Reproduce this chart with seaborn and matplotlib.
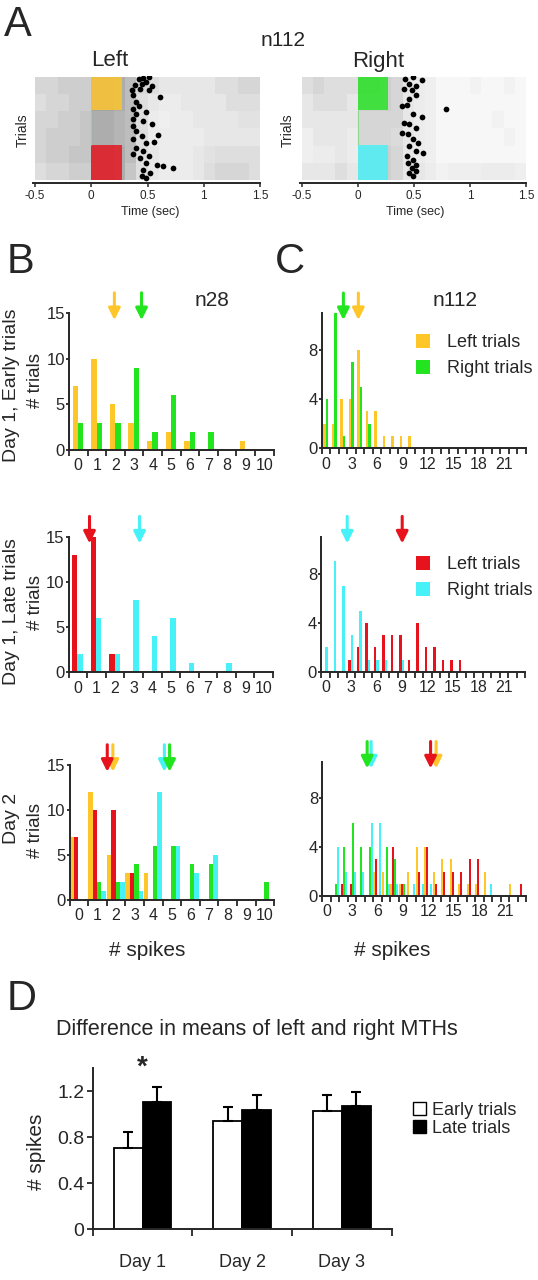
import numpy as np
import pandas as pd
import matplotlib
matplotlib.use("Agg")
import matplotlib.pyplot as plt
import seaborn as sns
from matplotlib.patches import Patch, Rectangle
from matplotlib.colors import LinearSegmentedColormap

# ---------------- colours ----------------
YELLOW = "#FFC62A"
GREEN = "#22E41F"
RED = "#E6121C"
CYAN = "#46F1F7"

# ---------------- Panel A : raster (n112) ----------------
raster_time_edges = [-0.5, -0.4, -0.3, -0.2, -0.1, 0.0, 0.1, 0.2, 0.3, 0.4, 0.5,
                     0.6, 0.7, 0.8, 0.9, 1.0, 1.1, 1.2, 1.3, 1.4, 1.5]
raster_trial_edges = [0, 10, 20, 30, 40, 50, 60]
# spike density (0 = empty, 1 = solid) per block of trials (rows) and time bin (cols)
left_density = [
    [.25, .25, .30, .30, .30, .55, .55, .50, .40, .25, .20, .15, .15, .15, .15, .15, .20, .20, .25, .25],
    [.20, .25, .25, .30, .30, .55, .55, .50, .40, .20, .15, .12, .12, .15, .15, .15, .15, .20, .20, .20],
    [.25, .25, .30, .30, .35, .50, .50, .45, .40, .20, .12, .10, .12, .12, .15, .15, .15, .15, .18, .18],
    [.25, .30, .30, .30, .35, .50, .50, .45, .40, .20, .12, .12, .12, .12, .12, .15, .15, .15, .15, .15],
    [.25, .30, .30, .35, .35, .55, .55, .50, .40, .20, .15, .12, .12, .12, .15, .18, .20, .20, .20, .20],
    [.20, .25, .25, .30, .30, .55, .55, .50, .35, .20, .15, .12, .12, .12, .15, .20, .25, .25, .25, .20],
]
right_density = [
    [.20, .25, .20, .20, .20, .35, .35, .30, .25, .15, .12, .10, .05, .05, .05, .08, .05, .05, .08, .05],
    [.15, .20, .20, .20, .15, .30, .30, .30, .25, .15, .12, .10, .05, .05, .05, .05, .05, .05, .05, .05],
    [.15, .15, .15, .15, .15, .25, .25, .25, .25, .15, .12, .10, .05, .05, .05, .05, .05, .08, .05, .05],
    [.10, .15, .15, .15, .12, .25, .25, .25, .22, .15, .12, .10, .05, .05, .05, .05, .05, .05, .08, .05],
    [.10, .12, .12, .15, .12, .30, .30, .30, .25, .15, .12, .10, .05, .05, .05, .05, .05, .05, .05, .05],
    [.15, .15, .15, .20, .15, .30, .30, .30, .25, .15, .15, .12, .08, .10, .10, .10, .12, .12, .12, .10],
]
# stimulus windows (time start, time end, first trial, last trial)
left_boxes = [(0.0, 0.27, 0.0, 19.3, YELLOW), (0.0, 0.27, 39.9, 60.0, RED)]
right_boxes = [(0.0, 0.27, 0.0, 19.3, GREEN), (0.0, 0.27, 39.7, 60.0, CYAN)]
# large dots: response time on each trial
left_dot_time = [0.42, 0.46, 0.51, 0.39, 0.45, 0.49, 0.54, 0.36, 0.43, 0.51, 0.61, 0.37, 0.40, 0.42,
                 0.37, 0.40, 0.49, 0.37, 0.46, 0.54, 0.37, 0.40, 0.45, 0.59, 0.37, 0.49, 0.56, 0.40,
                 0.46, 0.37, 0.43, 0.51, 0.49, 0.58, 0.64, 0.73, 0.46, 0.52, 0.45, 0.49]
left_dot_trial = [1.0, 0.6, 0.0, 4.5, 3.9, 3.0, 5.3, 7.9, 6.9, 7.9, 11.8, 10.8, 14.8, 16.7,
                  18.7, 21.6, 20.7, 24.6, 25.6, 27.5, 28.5, 31.5, 34.4, 34.0, 36.4, 38.4, 38.0, 41.3,
                  43.3, 45.2, 47.2, 46.2, 50.2, 51.1, 52.1, 53.1, 54.1, 56.1, 58.0, 59.0]
right_dot_time = [0.42, 0.49, 0.57, 0.46, 0.52, 0.41, 0.48, 0.52, 0.46, 0.39, 0.44, 0.79, 0.49, 0.57,
                  0.41, 0.46, 0.52, 0.39, 0.45, 0.49, 0.54, 0.46, 0.52, 0.58, 0.44, 0.49, 0.45, 0.52,
                  0.48, 0.46, 0.52, 0.49]
right_dot_trial = [1.0, 0.0, 1.6, 3.9, 5.3, 6.9, 7.9, 10.8, 12.8, 16.7, 16.3, 18.7, 21.6, 23.6,
                   26.6, 27.5, 29.5, 32.5, 33.4, 36.4, 38.4, 40.3, 43.3, 44.3, 46.2, 48.2, 50.2, 51.1,
                   53.1, 56.1, 55.1, 58.0]
time_ticks = [-0.5, 0, 0.5, 1, 1.5]
time_ticklabels = ["-0.5", "0", "0.5", "1", "1.5"]

# ---------------- Panels B/C : spike-count histograms ----------------
# B (n28): bins 0..10
b_day1_early_left = [7, 10, 5, 3, 1, 2, 1, 0, 0, 1, 0]
b_day1_early_right = [3, 3, 3, 9, 2, 6, 2, 2, 0, 0, 0]
b_day1_late_left = [13, 15, 2, 0, 0, 0, 0, 0, 0, 0, 0]
b_day1_late_right = [2, 6, 2, 8, 4, 6, 1, 0, 1, 0, 0]
b_day2_early_left = [7, 12, 5, 3, 3, 0, 0, 0, 0, 0, 0]
b_day2_late_left = [7, 10, 10, 3, 0, 0, 0, 0, 0, 0, 0]
b_day2_early_right = [0, 2, 2, 4, 6, 6, 4, 4, 0, 0, 2]
b_day2_late_right = [0, 1, 2, 1, 12, 6, 3, 5, 0, 0, 0]
b_ticklabels = [str(i) for i in range(11)]
# C (n112): bins 0..23
c_day1_early_left = [2, 2, 4, 4, 8, 3, 3, 1, 1, 1, 1, 0, 0, 0, 0, 0, 0, 0, 0, 0, 0, 0, 0, 0]
c_day1_early_right = [4, 11, 1, 7, 5, 2, 0, 0, 0, 0, 0, 0, 0, 0, 0, 0, 0, 0, 0, 0, 0, 0, 0, 0]
c_day1_late_left = [0, 0, 0, 1, 2, 4, 2, 3, 3, 3, 1, 4, 2, 2, 1, 1, 1, 0, 0, 0, 0, 0, 0, 0]
c_day1_late_right = [2, 9, 7, 3, 5, 1, 1, 1, 0, 1, 0, 0, 0, 0, 0, 0, 0, 0, 0, 0, 0, 0, 0, 0]
c_day2_early_left = [0, 0, 0, 0, 0, 0, 2, 2, 1, 1, 2, 4, 4, 2, 3, 3, 1, 1, 1, 2, 0, 0, 1, 0]
c_day2_late_left = [0, 0, 1, 1, 0, 0, 3, 0, 4, 1, 0, 2, 4, 1, 2, 2, 2, 3, 3, 0, 0, 0, 0, 1]
c_day2_early_right = [0, 1, 4, 6, 4, 4, 0, 4, 3, 1, 0, 0, 0, 0, 0, 0, 0, 0, 0, 0, 0, 0, 0, 0]
c_day2_late_right = [0, 4, 2, 2, 2, 6, 6, 1, 1, 0, 1, 1, 1, 0, 0, 0, 0, 0, 0, 1, 0, 0, 0, 0]
c_ticklabels = ["0", "3", "6", "9", "12", "15", "18", "21"]
c_tickbins = [0, 3, 6, 9, 12, 15, 18, 21]
# mean markers (arrow positions, in bin units)
b_day1_early_arrows = [(2.44, YELLOW), (3.90, GREEN)]
b_day1_late_arrows = [(1.13, RED), (3.82, CYAN)]
b_day2_arrows = [(2.33, YELLOW), (2.03, RED), (5.10, CYAN), (5.38, GREEN)]
c_day1_early_arrows = [(2.55, GREEN), (4.31, YELLOW)]
c_day1_late_arrows = [(3.06, CYAN), (9.53, RED)]
c_day2_arrows = [(5.76, CYAN), (5.29, GREEN), (13.40, YELLOW), (12.75, RED)]

# ---------------- Panel D ----------------
days = ["Day 1", "Day 2", "Day 3"]
early_mean = [0.71, 0.94, 1.03]
early_sem = [0.135, 0.125, 0.135]
late_mean = [1.11, 1.04, 1.07]
late_sem = [0.13, 0.13, 0.125]

# ================= drawing =================
sns.set_style("ticks")
plt.rcParams["font.family"] = ["Liberation Sans", "DejaVu Sans"]
plt.rcParams["axes.linewidth"] = 1.4

W, H = 538, 1280
fig = plt.figure(figsize=(W / 100, H / 100), dpi=100)


def add_ax(l, t, r, b):
    return fig.add_axes([l / W, 1 - b / H, (r - l) / W, (b - t) / H])


def ftext(x, y, s, **kw):
    kw.setdefault("ha", "center")
    kw.setdefault("va", "center")
    fig.text(x / W, 1 - y / H, s, **kw)


kblack = LinearSegmentedColormap.from_list("kalpha", [(0, 0, 0, 0), (0, 0, 0, 1)])


def raster(ax, density, boxes, dt, dtr):
    ax.pcolormesh(raster_time_edges, raster_trial_edges, np.array(density), cmap=kblack,
                  vmin=0, vmax=1.55, zorder=1, shading="flat")
    for (t0, t1, r0, r1, c) in boxes:
        ax.add_patch(Rectangle((t0, r0), t1 - t0, r1 - r0, facecolor=c, edgecolor="none",
                               alpha=0.82, zorder=2))
    ax.vlines(0, 19.3, 39.8, color="#8fd88f", lw=0.8, zorder=2.5)
    sns.scatterplot(x=dt, y=dtr, ax=ax, color="black", s=17, linewidth=0, zorder=4, legend=False)
    ax.set_xlim(-0.52, 1.5)
    ax.set_ylim(61.8, -0.5)
    for s in ["left", "top", "right"]:
        ax.spines[s].set_visible(False)
    ax.set_yticks([])
    ax.set_xticks(time_ticks)
    ax.set_xticklabels(time_ticklabels)
    ax.tick_params(axis="x", length=3, width=1.1, labelsize=8.5, pad=2)
    ax.set_xlabel("")
    ax.set_ylabel("")


axA1 = add_ax(32.75, 76, 260, 183)
raster(axA1, left_density, left_boxes, left_dot_time, left_dot_trial)
axA2 = add_ax(299.5, 76, 526, 183)
raster(axA2, right_density, right_boxes, right_dot_time, right_dot_trial)

ftext(18, 25, "A", fontsize=30)
ftext(283, 40, "n112", fontsize=15)
ftext(110, 61, "Left", fontsize=16)
ftext(378, 61, "Right", fontsize=16)
ftext(23, 130, "Trials", fontsize=10, rotation=90)
ftext(288, 130, "Trials", fontsize=10, rotation=90)
ftext(150, 212, "Time (sec)", fontsize=9)
ftext(415, 212, "Time (sec)", fontsize=9)


def hist(ax, series, colors, nb, width, ymax, yticks, arrows, which):
    rows = []
    names = []
    for k, vals in enumerate(series):
        name = f"s{k}"
        names.append(name)
        for i, v in enumerate(vals):
            rows.append({"bin": i + 0.48, "count": v, "series": name})
    df = pd.DataFrame(rows)
    sns.barplot(data=df, x="bin", y="count", hue="series", hue_order=names,
                palette=dict(zip(names, colors)), native_scale=True, width=width,
                dodge=True, saturation=1, errorbar=None, legend=False, ax=ax, linewidth=0)
    ax.set_xlim(0, nb)
    ax.set_ylim(0, ymax)
    ax.set_xticks(range(nb + 1))
    ax.set_xticklabels([])
    if which == "B":
        ax.set_xticks([i + 0.5 for i in range(nb)], minor=True)
        ax.set_xticklabels(b_ticklabels, minor=True)
    else:
        ax.set_xticks([i + 0.5 for i in c_tickbins], minor=True)
        ax.set_xticklabels(c_ticklabels, minor=True)
    ax.tick_params(axis="x", which="major", length=4, width=1.3, direction="out")
    ax.tick_params(axis="x", which="minor", length=0, labelsize=11.5, pad=6)
    ax.set_yticks(yticks)
    ax.set_yticklabels([str(v) for v in yticks])
    ax.tick_params(axis="y", length=2.5, width=1.3, labelsize=12, pad=0.5)
    ax.set_xlabel("")
    ax.set_ylabel("")
    sns.despine(ax=ax)
    for x, c in arrows:
        ax.annotate("", xy=(x, 0.95), xytext=(x, 1.15), xycoords=("data", "axes fraction"),
                    textcoords=("data", "axes fraction"), annotation_clip=False,
                    arrowprops=dict(arrowstyle="-|>,head_length=0.7,head_width=0.35",
                                    color=c, lw=2.2, shrinkA=0, shrinkB=0))


bw = 18.6
axB1 = add_ax(69, 313.3, 69 + 11 * bw, 450)
hist(axB1, [b_day1_early_left, b_day1_early_right], [YELLOW, GREEN], 11, 0.58, 15, [0, 5, 10, 15], b_day1_early_arrows, "B")
axB2 = add_ax(68.5, 536.7, 68.5 + 11 * bw, 672.3)
hist(axB2, [b_day1_late_left, b_day1_late_right], [RED, CYAN], 11, 0.58, 15, [0, 5, 10, 15], b_day1_late_arrows, "B")
axB3 = add_ax(69.5, 765, 69.5 + 11 * bw, 900)
hist(axB3, [b_day2_early_left, b_day2_late_left, b_day2_early_right, b_day2_late_right],
     [YELLOW, RED, GREEN, CYAN], 11, 0.96, 15, [0, 5, 10, 15], b_day2_arrows, "B")

cw = 8.5
axC1 = add_ax(321.7, 313.3, 321.7 + 24 * cw, 448.3)
hist(axC1, [c_day1_early_left, c_day1_early_right], [YELLOW, GREEN], 24, 0.56, 11, [0, 4, 8], c_day1_early_arrows, "C")
axC2 = add_ax(321.2, 536.7, 321.2 + 24 * cw, 672)
hist(axC2, [c_day1_late_left, c_day1_late_right], [RED, CYAN], 24, 0.56, 11, [0, 4, 8], c_day1_late_arrows, "C")
axC3 = add_ax(322.2, 761.7, 322.2 + 24 * cw, 896)
hist(axC3, [c_day2_early_left, c_day2_late_left, c_day2_early_right, c_day2_late_right],
     [YELLOW, RED, GREEN, CYAN], 24, 0.96, 11, [0, 4, 8], c_day2_arrows, "C")

ftext(20, 262, "B", fontsize=30)
ftext(290, 262, "C", fontsize=30)
ftext(212, 300, "n28", fontsize=15)
ftext(455, 300, "n112", fontsize=15)
ftext(12, 385, "Day 1, Early trials", fontsize=14, rotation=90)
ftext(35, 380, "# trials", fontsize=13.5, rotation=90)
ftext(12, 612, "Day 1, Late trials", fontsize=14, rotation=90)
ftext(35, 603, "# trials", fontsize=13.5, rotation=90)
ftext(12, 818, "Day 2", fontsize=14, rotation=90)
ftext(35, 830, "# trials", fontsize=13.5, rotation=90)
ftext(147, 950, "# spikes", fontsize=15)
ftext(392, 950, "# spikes", fontsize=15)

legC1 = [Patch(facecolor=YELLOW, edgecolor="none", label="Left trials"),
         Patch(facecolor=GREEN, edgecolor="none", label="Right trials")]
legC2 = [Patch(facecolor=RED, edgecolor="none", label="Left trials"),
         Patch(facecolor=CYAN, edgecolor="none", label="Right trials")]
for ax, hnd, ytop in [(axC1, legC1, 334), (axC2, legC2, 556)]:
    ax.legend(handles=hnd, loc="upper left", bbox_to_anchor=(416 / W, 1 - ytop / H),
              bbox_transform=fig.transFigure, frameon=False, fontsize=13,
              handlelength=0.8, handleheight=0.8, handletextpad=0.9, labelspacing=0.5,
              borderpad=0, borderaxespad=0)

# ---------------- Panel D ----------------
axD = add_ax(92.7, 1068.3, 391.7, 1229.3)
dfD = pd.DataFrame({
    "day": days * 2,
    "value": early_mean + late_mean,
    "trial": ["Early trials"] * 3 + ["Late trials"] * 3,
})
sns.barplot(data=dfD, x="day", y="value", hue="trial", order=days,
            hue_order=["Early trials", "Late trials"],
            palette={"Early trials": "white", "Late trials": "black"},
            edgecolor="black", linewidth=1.3, width=0.58, saturation=1,
            errorbar=None, legend=False, ax=axD)
sem_lookup = {("Early trials", d): e for d, e in zip(days, early_sem)}
sem_lookup.update({("Late trials", d): e for d, e in zip(days, late_sem)})
for p in axD.patches:
    xc = p.get_x() + p.get_width() / 2
    di = int(round(xc))
    kind = "Early trials" if xc < di else "Late trials"
    e = sem_lookup[(kind, days[di])]
    axD.errorbar([xc], [p.get_height()], yerr=[[0], [e]], fmt="none", ecolor="black",
                 elinewidth=1.5, capsize=3.5, capthick=1.5, zorder=1)
axD.set_xlim(-0.5, 2.5)
axD.set_ylim(0, 1.4)
axD.set_xticks([-0.5, 0.5, 1.5, 2.5])
axD.set_xticklabels([])
axD.set_xticks([0, 1, 2], minor=True)
axD.set_xticklabels(days, minor=True)
axD.tick_params(axis="x", which="major", length=5, width=1.3)
axD.tick_params(axis="x", which="minor", length=0, labelsize=13, pad=18)
axD.set_yticks([0, 0.4, 0.8, 1.2])
axD.set_yticklabels(["0", "0.4", "0.8", "1.2"])
axD.tick_params(axis="y", length=4, width=1.3, labelsize=14, pad=2)
axD.set_xlabel("")
axD.set_ylabel("")
sns.despine(ax=axD)

ftext(22, 999, "D", fontsize=30)
ftext(257, 1030, "Difference in means of left and right MTHs", fontsize=15.5)
ftext(37, 1152, "# spikes", fontsize=15, rotation=90)
ftext(142, 1068, "*", fontsize=20, fontweight="bold")
legD = [Patch(facecolor="white", edgecolor="black", linewidth=1.0, label="Early trials"),
        Patch(facecolor="black", edgecolor="black", label="Late trials")]
axD.legend(handles=legD, loc="upper left", bbox_to_anchor=(413 / W, 1 - 1102 / H),
           bbox_transform=fig.transFigure, frameon=False, fontsize=13,
           handlelength=0.7, handleheight=0.7, handletextpad=0.35, labelspacing=0.05,
           borderpad=0, borderaxespad=0)

fig.savefig("out.png", dpi=100)
